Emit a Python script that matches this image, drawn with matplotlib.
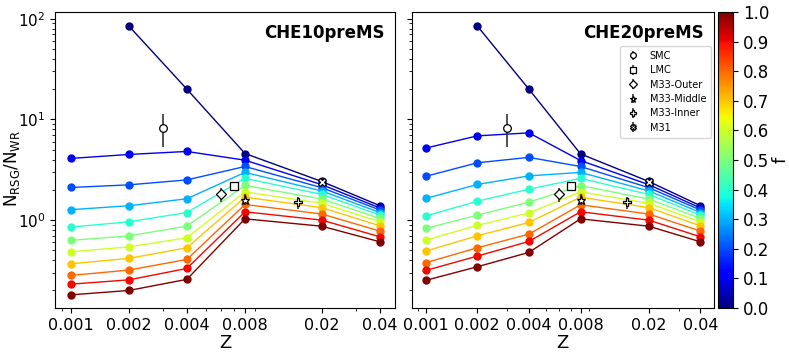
import numpy as np
import matplotlib
matplotlib.use("Agg")
import matplotlib.pyplot as plt
from matplotlib.ticker import FixedLocator, FixedFormatter, NullFormatter

plt.rcParams["mathtext.fontset"] = "dejavusans"

Z = [0.001, 0.002, 0.004, 0.008, 0.02, 0.04]
F = [0.0, 0.1, 0.2, 0.3, 0.4, 0.5, 0.6, 0.7, 0.8, 0.9, 1.0]
XTICKS = [0.001, 0.002, 0.004, 0.008, 0.02, 0.04]
XTICKLABELS = ["0.001", "0.002", "0.004", "0.008", "0.02", "0.04"]

nan = np.nan
# N_RSG/N_WR per f (rows) at each Z (columns)
CHE10 = [
    [nan, 85.0, 20.0, 4.59, 2.42, 1.39],
    [4.10, 4.49, 4.81, 3.94, 2.25, 1.32],
    [2.11, 2.24, 2.51, 3.41, 2.10, 1.26],
    [1.27, 1.39, 1.63, 2.98, 1.95, 1.19],
    [0.852, 0.962, 1.19, 2.60, 1.80, 1.12],
    [0.629, 0.698, 0.872, 2.21, 1.62, 1.04],
    [0.484, 0.543, 0.667, 1.91, 1.47, 0.962],
    [0.368, 0.417, 0.531, 1.69, 1.33, 0.878],
    [0.282, 0.319, 0.407, 1.43, 1.15, 0.778],
    [0.231, 0.255, 0.331, 1.21, 1.00, 0.683],
    [0.181, 0.200, 0.258, 1.03, 0.87, 0.609],
]
CHE20 = [
    [nan, 85.0, 20.0, 4.55, 2.42, 1.39],
    [5.19, 6.87, 7.36, 3.91, 2.25, 1.32],
    [2.72, 3.71, 4.20, 3.41, 2.10, 1.26],
    [1.64, 2.26, 2.75, 2.98, 1.95, 1.19],
    [1.10, 1.54, 2.03, 2.60, 1.80, 1.12],
    [0.826, 1.12, 1.51, 2.20, 1.62, 1.04],
    [0.633, 0.886, 1.18, 1.91, 1.47, 0.962],
    [0.492, 0.698, 0.948, 1.69, 1.33, 0.878],
    [0.377, 0.531, 0.726, 1.42, 1.15, 0.778],
    [0.316, 0.439, 0.614, 1.21, 1.00, 0.683],
    [0.252, 0.344, 0.478, 1.03, 0.87, 0.609],
]

# observed galaxies
OBS_NAME = ["SMC", "LMC", "M33-Outer", "M33-Middle", "M33-Inner", "M31"]
OBS_Z = [0.003, 0.007, 0.006, 0.008, 0.015, 0.02]
OBS_R = [8.3, 2.19, 1.80, 1.60, 1.50, 2.40]
OBS_ERR = [3.0, 0.12, 0.30, 0.20, 0.20, 0.08]
OBS_MARK = ["o", "s", "D", "*", "P", "X"]

fig = plt.figure(figsize=(7.89, 3.55), dpi=100)
ax1 = fig.add_axes([0.0697, 0.1324, 0.431, 0.834])
ax2 = fig.add_axes([0.5218, 0.1324, 0.383, 0.834], sharey=ax1)
cax = fig.add_axes([0.910, 0.1324, 0.019, 0.834])

cmap = plt.get_cmap("jet")


def panel(ax, data, name, legend):
    for f, row in zip(F, data):
        ax.plot(Z, row, "-o", color=cmap(f), lw=1.0, ms=5)
    for n, z, r, e, m in zip(OBS_NAME, OBS_Z, OBS_R, OBS_ERR, OBS_MARK):
        ax.errorbar(z, r, yerr=e, fmt=m, mfc="white", mec="k", ms=5.5 if m != "*" else 6.5,
                    mew=0.9, ecolor="#333333", elinewidth=1.2, capsize=0,
                    label=n, zorder=5)
    ax.set_xscale("log")
    ax.set_yscale("log")
    ax.set_xlim(0.00083, 0.0479)
    ax.set_ylim(0.134, 117)
    ax.xaxis.set_major_locator(FixedLocator(XTICKS))
    ax.xaxis.set_major_formatter(FixedFormatter(XTICKLABELS))
    ax.xaxis.set_minor_formatter(NullFormatter())
    ax.tick_params(axis="x", labelsize=11.5)
    ax.tick_params(axis="y", labelsize=11)
    ax.set_xlabel("Z", fontsize=13, labelpad=1)
    ax.text(0.968, 0.929, name, transform=ax.transAxes, ha="right", va="center",
            fontsize=12, fontweight="bold")
    if legend:
        ax.legend(loc="upper right", bbox_to_anchor=(0.99, 0.885), borderaxespad=0,
                  fontsize=7, markerscale=0.75, handlelength=1.6, handletextpad=0.9,
                  labelspacing=0.45, borderpad=0.5)


panel(ax1, CHE10, "CHE10preMS", False)
panel(ax2, CHE20, "CHE20preMS", True)
ax1.set_ylabel(r"$\mathrm{N_{RSG}/N_{WR}}$", fontsize=12)
ax1.yaxis.set_label_coords(-0.098, 0.47)
ax2.tick_params(labelleft=False)

sm = plt.cm.ScalarMappable(cmap=cmap, norm=plt.Normalize(0, 1))
cb = fig.colorbar(sm, cax=cax, ticks=np.arange(0, 1.01, 0.1))
cb.ax.tick_params(labelsize=12)
cb.set_label("f", fontsize=13, labelpad=2)

fig.savefig("out.png", dpi=100)
